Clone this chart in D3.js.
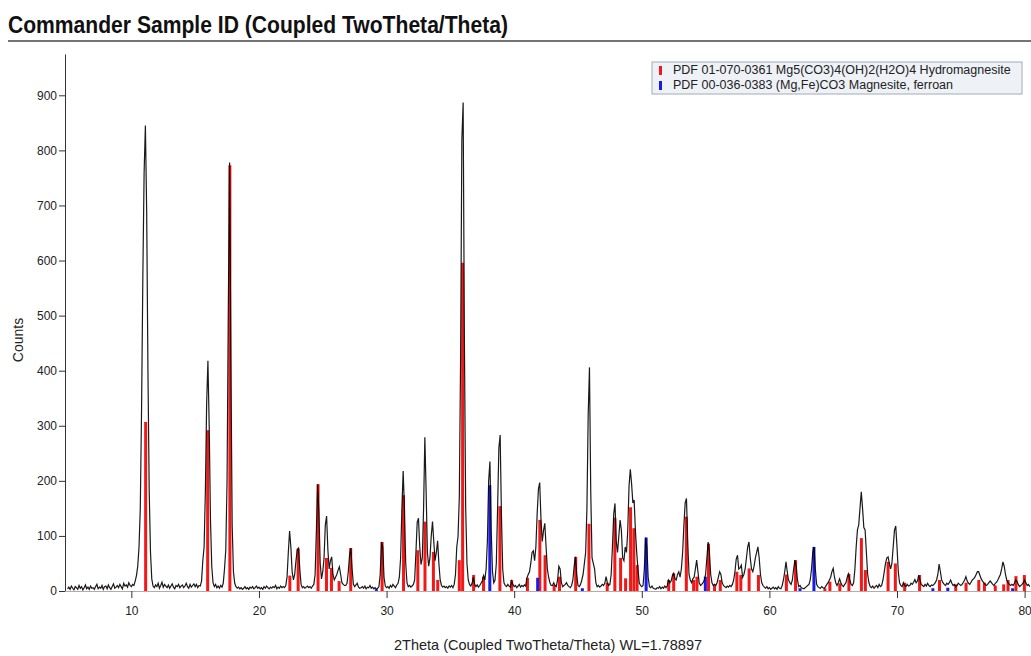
<!DOCTYPE html>
<html>
<head>
<meta charset="utf-8">
<script src="https://cdn.jsdelivr.net/npm/d3@7"></script>
<style>
body { margin: 0; background: #fff; }
svg { display: block; font-family: "Liberation Sans", Arial, Helvetica, sans-serif; }
</style>
</head>
<body>
<svg id="chart" width="1031" height="656"></svg>
<script>
// scan: 2Theta from 5.0 in 0.1 deg steps, counts
const scanStart = 5.0;
const scanStep = 0.1;
const counts = [
  4, 7, 3, 9, 5, 2, 8, 6, 3, 10,            // 5
  5, 8, 2, 6, 11, 4, 7, 3, 9, 5,            // 6
  6, 3, 8, 12, 4, 7, 5, 10, 3, 8,           // 7
  9, 4, 11, 6, 3, 8, 13, 5, 7, 10,          // 8
  6, 12, 8, 4, 14, 9, 11, 7, 15, 10,        // 9
  8, 12, 10, 18, 28, 45, 80, 150, 330, 570, // 10
  760, 845, 690, 400, 180, 70, 22, 9, 6, 11,
  8, 14, 5, 10, 16, 7, 12, 9, 6, 11,        // 12
  5, 9, 13, 7, 4, 10, 8, 12, 6, 9,
  11, 6, 9, 14, 8, 5, 12, 7, 10, 13,        // 14
  8, 12, 6, 10, 9, 18, 55, 80, 180, 340,
  418, 300, 130, 45, 15, 8, 12, 6, 9, 5,    // 16
  10, 7, 14, 40, 75, 200, 520, 778, 420, 120,
  35, 14, 8, 5, 7, 4, 6, 3, 5, 8,           // 18
  4, 6, 3, 7, 5, 8, 4, 6, 9, 5,
  7, 4, 6, 3, 8, 5, 9, 6, 4, 7,             // 20
  5, 8, 6, 10, 4, 7, 5, 9, 6, 8,
  6, 10, 25, 70, 109, 80, 35, 20, 30, 55,   // 22
  75, 78, 40, 12, 6, 8, 5, 7, 9, 6,
  8, 5, 9, 12, 30, 110, 194, 140, 50, 22,   // 24
  35, 60, 120, 136, 75, 40, 55, 62, 30, 20,
  25, 30, 38, 44, 30, 15, 12, 10, 10, 14,   // 26
  35, 65, 78, 40, 12, 8, 11, 14, 7, 5,
  6, 8, 5, 9, 4, 7, 6, 10, 5, 7,            // 28
  4, 6, 3, 5, 8, 30, 89, 80, 25, 9,
  6, 8, 5, 10, 7, 12, 9, 6, 11, 14,         // 30
  25, 60, 150, 218, 150, 50, 15, 8, 10, 7,
  9, 12, 20, 70, 125, 132, 80, 48, 60, 150, // 32
  279, 180, 70, 45, 60, 100, 126, 90, 55, 70,
  91, 50, 20, 10, 7, 9, 6, 8, 5, 9,         // 34
  7, 10, 6, 12, 30, 80, 99, 170, 420, 820,
  887, 450, 150, 50, 20, 12, 9, 14, 25, 12, // 36
  8, 11, 7, 10, 14, 18, 28, 20, 40, 90,
  200, 235, 110, 35, 15, 20, 50, 150, 260, 283, // 38
  140, 40, 15, 10, 8, 12, 9, 7, 18, 12,
  8, 10, 6, 9, 12, 7, 10, 8, 11, 9,         // 40
  24, 30, 35, 50, 70, 73, 55, 80, 140, 185,
  197, 130, 90, 110, 123, 80, 40, 25, 15, 10, // 42
  10, 15, 10, 8, 20, 45, 40, 15, 8, 10,
  12, 15, 10, 8, 6, 10, 20, 45, 62, 30,     // 44
  10, 8, 12, 20, 30, 50, 70, 150, 320, 406,
  180, 60, 50, 40, 15, 8, 10, 7, 9, 12,     // 46
  10, 14, 26, 15, 10, 12, 30, 80, 140, 159,
  90, 70, 100, 129, 110, 60, 55, 80, 70, 110, // 48
  190, 221, 195, 160, 165, 110, 71, 40, 15, 10,
  8, 10, 40, 97, 80, 25, 8, 6, 9, 5,        // 50
  4, 3, 6, 5, 8, 4, 7, 5, 9, 6,
  10, 20, 15, 18, 28, 32, 22, 20, 30, 35,   // 52
  25, 40, 70, 120, 160, 168, 90, 30, 20, 15,
  22, 25, 40, 56, 35, 15, 10, 12, 15, 20,   // 54
  30, 60, 89, 70, 30, 15, 10, 12, 10, 15,
  25, 35, 30, 15, 10, 8, 6, 9, 7, 10,       // 56
  8, 12, 20, 35, 58, 65, 40, 42, 47, 25,
  30, 40, 60, 80, 89, 60, 40, 35, 45, 60,   // 58
  70, 80, 60, 30, 15, 10, 7, 5, 8, 4,
  6, 3, 5, 7, 4, 6, 3, 8, 5, 4,             // 60
  10, 20, 35, 53, 35, 20, 15, 12, 20, 40,
  56, 45, 20, 8, 10, 6, 5, 4, 6, 8,         // 62
  10, 12, 20, 40, 70, 80, 40, 12, 8, 6,
  5, 8, 6, 5, 8, 12, 15, 20, 25, 35,        // 64
  41, 25, 15, 10, 15, 22, 15, 10, 8, 12,
  15, 25, 31, 20, 12, 10, 15, 40, 80, 111,  // 66
  120, 150, 180, 150, 115, 111, 70, 30, 15, 8,
  6, 9, 5, 8, 10, 6, 12, 8, 10, 20,         // 68
  35, 50, 60, 62, 50, 40, 50, 80, 110, 118,
  80, 35, 15, 10, 8, 15, 10, 8, 12, 9,      // 70
  10, 14, 12, 16, 21, 15, 18, 29, 20, 12,
  10, 8, 12, 9, 14, 10, 8, 11, 10, 12,      // 72
  15, 20, 30, 49, 35, 20, 15, 12, 10, 14,
  12, 15, 20, 14, 10, 12, 8, 10, 14, 12,    // 74
  10, 12, 16, 20, 26, 18, 14, 12, 16, 20,
  22, 25, 30, 35, 35, 28, 22, 18, 15, 12,   // 76
  10, 12, 15, 18, 15, 12, 10, 14, 16, 20,
  25, 30, 40, 53, 45, 30, 20, 15, 12, 10,   // 78
  12, 10, 14, 20, 18, 12, 8, 10, 12, 15,
  20, 15, 10, 12, 8                         // 80
];

// PDF 01-070-0361 Hydromagnesite sticks
const hmPos = [11.12, 15.98, 17.72, 22.42, 23.07, 24.63, 25.29, 25.68, 26.28, 27.19,
  29.65, 31.33, 32.45, 33.01, 33.67, 34.01, 35.70, 35.96, 36.82, 37.60,
  38.88, 39.80, 41.04, 42.01, 42.42, 43.13, 43.55, 44.82, 45.86, 47.29,
  47.89, 48.34, 48.73, 49.12, 49.38, 49.63, 52.11, 52.50, 53.49, 54.06,
  54.32, 55.23, 55.70, 56.15, 57.45, 57.76, 58.41, 59.14, 61.33, 62.05,
  64.35, 64.74, 65.52, 66.23, 67.21, 67.52, 69.30, 69.87, 70.60, 71.77,
  73.33, 74.60, 75.41, 76.41, 76.85, 77.70, 78.36, 78.70, 79.32, 79.98];
const hmInt = [307, 292, 773, 28, 77, 194, 60, 42, 18, 78,
  89, 174, 74, 126, 71, 20, 56, 596, 29, 26,
  154, 20, 24, 129, 65, 11, 26, 62, 122, 15,
  133, 60, 23, 152, 114, 47, 20, 32, 135, 20,
  26, 86, 11, 20, 35, 29, 41, 29, 30, 56,
  5, 17, 14, 31, 96, 38, 53, 50, 15, 29,
  20, 12, 15, 20, 15, 10, 12, 20, 27, 29];

// PDF 00-036-0383 Magnesite, ferroan sticks
const mgPos = [29.20, 38.09, 41.84, 45.34, 50.34, 54.98, 62.40, 63.49, 72.81, 73.98, 79.06];
const mgInt = [3, 192, 24, 5, 97, 26, 5, 80, 5, 6, 5];

const legendLabels = [
  "PDF 01-070-0361 Mg5(CO3)4(OH)2(H2O)4 Hydromagnesite",
  "PDF 00-036-0383 (Mg,Fe)CO3 Magnesite, ferroan"
];
const legendColors = ["#f21818", "#1a1ae6"];

const yMajor = d3.range(0, 901, 100);
const xMajor = [10, 20, 30, 40, 50, 60, 70, 80];

const svg = d3.select("#chart");

const x = d3.scaleLinear().domain([4.8, 80.5]).range([65, 1031]);
const y = d3.scaleLinear().domain([0, 975]).range([591, 54]);

// title + rule
svg.append("text")
    .attr("x", 8).attr("y", 33)
    .attr("textLength", 500).attr("lengthAdjust", "spacingAndGlyphs")
    .style("font-size", "24px").style("font-weight", "bold").style("fill", "#111")
    .text("Commander Sample ID (Coupled TwoTheta/Theta)");
svg.append("line")
    .attr("x1", 8).attr("x2", 1031).attr("y1", 41).attr("y2", 41)
    .style("stroke", "#444").style("stroke-width", 1.5);

const scan = counts.map((c, i) => [scanStart + i * scanStep, c]);

// reference sticks
function sticks(pos, ints, color) {
    svg.append("g").selectAll("rect")
        .data(pos.map((p, i) => [p, ints[i]]))
        .enter()
        .append("rect")
        .attr("x", d => x(d[0]) - 1.5)
        .attr("width", 3)
        .attr("y", d => y(d[1]))
        .attr("height", d => y(0) - y(d[1]))
        .style("fill", color);
}
sticks(hmPos, hmInt, legendColors[0]);
sticks(mgPos, mgInt, legendColors[1]);

// measured pattern
svg.append("path")
    .datum(scan)
    .attr("d", d3.line().x(d => x(d[0])).y(d => y(d[1])))
    .style("fill", "none")
    .style("stroke", "#000")
    .style("stroke-opacity", 0.9)
    .style("stroke-width", 1.2);

// axes
const yAxis = svg.append("g").attr("transform", "translate(65,0)");
yAxis.call(d3.axisLeft(y).tickValues(d3.range(0, 971, 10)).tickSize(3).tickFormat(""));
yAxis.call(d3.axisLeft(y).tickValues(yMajor).tickSize(6).tickSizeOuter(0).tickPadding(2));
yAxis.selectAll("path").style("stroke", "#333");
yAxis.selectAll("line").style("stroke", "#333");
yAxis.selectAll("text").style("font-size", "12px").style("fill", "#222");

const xAxis = svg.append("g").attr("transform", "translate(0,591)");
xAxis.call(d3.axisBottom(x).tickValues(d3.range(6, 80.5, 2)).tickSize(4).tickFormat("").tickSizeOuter(0));
xAxis.call(d3.axisBottom(x).tickValues(xMajor).tickSize(7).tickSizeOuter(0).tickPadding(8));
xAxis.selectAll("path").style("stroke", "#b9a9a9");
xAxis.selectAll("line").style("stroke", "#333");
xAxis.selectAll("text").style("font-size", "12px").style("fill", "#222");

// axis titles
svg.append("text")
    .attr("x", 548).attr("y", 650)
    .style("text-anchor", "middle").style("font-size", "14.5px").style("fill", "#222")
    .text("2Theta (Coupled TwoTheta/Theta) WL=1.78897");
svg.append("text")
    .attr("transform", "translate(23,340) rotate(-90)")
    .style("text-anchor", "middle").style("font-size", "14px").style("fill", "#222")
    .text("Counts");

// legend
const legend = svg.append("g");
legend.append("rect")
    .attr("x", 652).attr("y", 62).attr("width", 370).attr("height", 32)
    .style("fill", "#eef1f5").style("stroke", "#a3acb8");
legendLabels.forEach((label, i) => {
    legend.append("rect")
        .attr("x", 659).attr("y", 66 + i * 15).attr("width", 3).attr("height", 9)
        .style("fill", legendColors[i]);
    legend.append("text")
        .attr("x", 673).attr("y", 74 + i * 15)
        .style("font-size", "12.5px").style("fill", "#222")
        .text(label);
});
</script>
</body>
</html>
